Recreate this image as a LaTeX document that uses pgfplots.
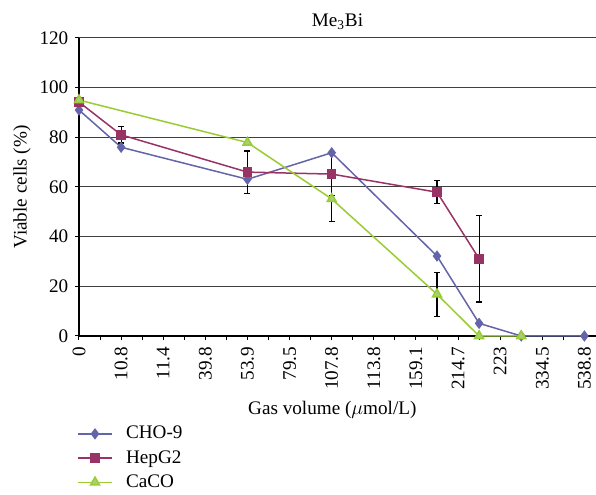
\documentclass[border=0pt]{standalone}
\usepackage{pgfplots}
\pgfplotsset{compat=1.18}
\usepackage{fontspec}
\setmainfont{Liberation Serif}
\definecolor{cho}{HTML}{6464A8}
\definecolor{hep}{HTML}{993366}
\definecolor{caco}{HTML}{99CC33}
\definecolor{cacofill}{HTML}{A6CF78}
\newcommand{\tl}[1]{\textrm{#1}}
\begin{document}
\fontsize{11.5pt}{13pt}\selectfont
\begin{tikzpicture}[x=0.6pt,y=0.6pt]
\useasboundingbox (-79,-159) rectangle (517,336);
\begin{axis}[
  at={(0,0)}, anchor=south west,
  scale only axis, width=310.2pt, height=178.8pt,
  xmin=0, xmax=24.55, ymin=0, ymax=120,
  axis lines=left, axis line style={-, line width=0.7pt},
  xtick={0,...,24},
  xticklabels={\tl{0},,\tl{10.8},,\tl{11.4},,\tl{39.8},,\tl{53.9},,\tl{79.5},,\tl{107.8},,\tl{113.8},,\tl{159.1},,\tl{214.7},,\tl{223},,\tl{334.5},,\tl{538.8}},
  x tick label style={rotate=90, anchor=east},
  ytick={0,20,...,120},
  yticklabels={\tl{0},\tl{20},\tl{40},\tl{60},\tl{80},\tl{100},\tl{120}},
  tick align=outside, major tick length=2.4pt,
  tick style={black, line width=0.6pt},
  ymajorgrids, grid style={black!75, line width=0.6pt},
  tick label style={font=\rmfamily},
  title={Me\textsubscript{3}Bi},
  title style={at={(axis description cs:0.5,1)}, anchor=center, yshift=3.6pt},
  xlabel={Gas volume ($\mu$mol/L)},
  x label style={at={(axis description cs:0.49,-0.248)}, anchor=center},
  ylabel={Viable cells (\%)},
  y label style={at={(axis description cs:-0.11,0.5)}, anchor=center},
  legend style={at={(axis description cs:-0.004,-0.29)}, anchor=north west, draw=none, fill=none,
    font=\rmfamily, row sep=1.2pt, inner sep=0pt},
  legend cell align=left,
  legend image code/.code={\draw[mark repeat=2,mark phase=2] plot coordinates {(0pt,0pt)(10.2pt,0pt)(20.4pt,0pt)};
    \path (26.4pt,0pt);},
  clip=false,
]
\addplot[cho, line width=0.9pt, mark=diamond*, mark size=2.7pt, mark options={fill=cho, draw=cho}]
 coordinates {(0,91)(2,76)(8,63.1)(12,73.8)(17,32.2)(19,5.1)(21,0)(24,0)};
\addlegendentry{CHO-9}
\addplot[hep, line width=0.9pt, mark=square*, mark size=2.4pt, mark options={fill=hep, draw=hep}]
 coordinates {(0,94.2)(2,81)(8,66)(12,65.2)(17,57.9)(19,31.1)};
\addlegendentry{HepG2}
\addplot[caco, line width=0.9pt, mark=triangle*, mark size=3.1pt, mark options={fill=cacofill, draw=caco}]
 coordinates {(0,95)(8,77.9)(12,55.2)(17,16.8)(19,0)(21,0)};
\addlegendentry{CaCO}
\addplot[forget plot, draw=none, mark=none, black,
  error bars/.cd, y dir=both, y explicit,
  error bar style={black, line width=0.7pt},
  error mark options={rotate=90, mark size=1.8pt, black, line width=0.7pt}]
 coordinates {(2,81) +- (0,3.3) (8,66) +- (0,8.5) (12,65.2) +- (0,8.6) (17,57.9) +- (0,4.6) (19,31.1) +- (0,17.4)};
\addplot[forget plot, draw=none, mark=none, black,
  error bars/.cd, y dir=both, y explicit,
  error bar style={black, line width=0.7pt},
  error mark options={rotate=90, mark size=1.8pt, black, line width=0.7pt}]
 coordinates {(12,55.2) +- (0,9.2) (17,16.8) +- (0,8.8)};
\end{axis}
\end{tikzpicture}
\end{document}
